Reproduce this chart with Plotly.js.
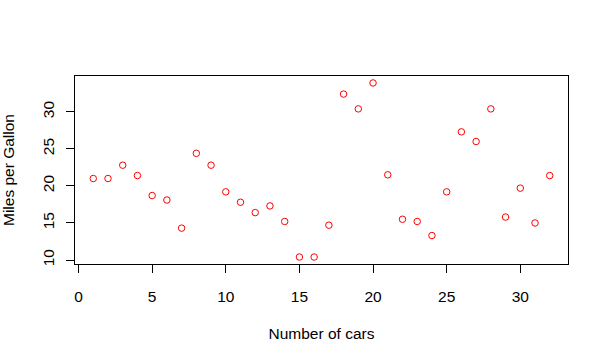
<!DOCTYPE html>
<html>
<head>
<meta charset="utf-8">
<script src="https://cdn.plot.ly/plotly-3.0.1.min.js"></script>
<style>html,body{margin:0;padding:0;background:#fff;}#chart{width:592px;height:361px;}</style>
</head>
<body>
<div id="chart"></div>
<script>
const carIndex = [1,2,3,4,5,6,7,8,9,10,11,12,13,14,15,16,17,18,19,20,21,22,23,24,25,26,27,28,29,30,31,32];
const mpg = [21.0,21.0,22.8,21.4,18.7,18.1,14.3,24.4,22.8,19.2,17.8,16.4,17.3,15.2,10.4,10.4,14.7,32.4,30.4,33.9,21.5,15.5,15.2,13.3,19.2,27.3,26.0,30.4,15.8,19.7,15.0,21.4];
const xTicks = [0,5,10,15,20,25,30];
const yTicks = [10,15,20,25,30];

const font = {family: 'Liberation Sans, Arial, sans-serif', size: 15.5, color: '#000'};

const trace = {
  x: carIndex, y: mpg, type: 'scatter', mode: 'markers',
  marker: {symbol: 'circle-open', size: 6.5, color: 'red', line: {color: 'red', width: 1}},
  hoverinfo: 'x+y'
};

const axisCommon = {
  showline: true, mirror: true, linecolor: '#000', linewidth: 1,
  ticks: 'outside', ticklen: 8, tickwidth: 1, tickcolor: '#000',
  showgrid: false, zeroline: false, tickmode: 'array', automargin: false,
  tickfont: font
};

const layout = {
  width: 592, height: 361,
  margin: {l: 75, r: 24, t: 76, b: 97},
  paper_bgcolor: '#fff', plot_bgcolor: '#fff',
  showlegend: false,
  font: font,
  xaxis: Object.assign({}, axisCommon, {
    range: [-0.24, 33.24], tickvals: xTicks, ticktext: xTicks.map(String),
    ticklabelstandoff: 10,
    title: {text: 'Number of cars', font: font, standoff: 24}
  }),
  yaxis: Object.assign({}, axisCommon, {
    range: [9.46, 34.84], tickvals: yTicks, ticktext: yTicks.map(String),
    tickangle: -90, ticklabelstandoff: 6,
    title: {text: 'Miles per Gallon', font: font, standoff: 22}
  })
};

Plotly.newPlot('chart', [trace], layout, {displayModeBar: false, staticPlot: true});
</script>
</body>
</html>
